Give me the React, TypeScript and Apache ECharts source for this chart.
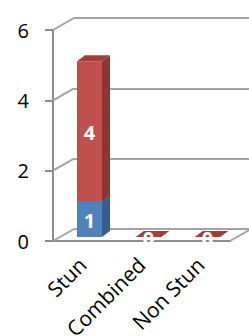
import React, { useEffect, useRef } from "react";
import * as echarts from "echarts";

const categories = ["Stun", "Combined", "Non Stun"];
const blueValues = [1, 0, 0];
const redValues = [4, 0, 0];
const yTicks = [0, 2, 4, 6];

const FONT = "Open Sans";
const BAR_W = 25;
const FRONT_DX = 7;
const FRONT_DY = -4;
const DEPTH_DX = 8;
const DEPTH_DY = -6;
const WALL_DX = 21;
const WALL_DY = -12;

function barRenderer(front: string, side: string, top: string) {
  return (params: any, api: any) => {
    const i = api.value(0);
    const v = api.value(1);
    const base = api.value(2);
    const p0 = api.coord([i, base]);
    const p1 = api.coord([i, base + v]);
    const x0 = p0[0] - BAR_W / 2 + FRONT_DX;
    const x1 = x0 + BAR_W;
    const yb = p0[1] + FRONT_DY;
    const yt = p1[1] + FRONT_DY;
    const children: any[] = [];
    if (v > 0) {
      children.push({
        type: "rect",
        shape: { x: x0, y: yt, width: BAR_W, height: yb - yt },
        style: { fill: front },
      });
      children.push({
        type: "polygon",
        shape: {
          points: [
            [x1, yb],
            [x1 + DEPTH_DX, yb + DEPTH_DY],
            [x1 + DEPTH_DX, yt + DEPTH_DY],
            [x1, yt],
          ],
        },
        style: { fill: side },
      });
    }
    children.push({
      type: "polygon",
      shape: {
        points: [
          [x0, yt],
          [x1, yt],
          [x1 + DEPTH_DX, yt + DEPTH_DY],
          [x0 + DEPTH_DX, yt + DEPTH_DY],
        ],
      },
      style: { fill: top },
    });
    children.push({
      type: "text",
      style: {
        text: String(v),
        x: x0 + BAR_W / 2,
        y: (yt + yb) / 2 + 1,
        align: "center",
        verticalAlign: "middle",
        fill: "#FFFFFF",
        font: `bold 20px "${FONT}"`,
      },
    });
    return { type: "group", children };
  };
}

export default function App() {
  const ref = useRef<HTMLDivElement>(null);
  useEffect(() => {
    if (!ref.current) return;
    const chart = echarts.init(ref.current, null, { renderer: "svg" });
    const axisGray = "#8C8C8C";
    const gridGray = "#A3A3A3";
    chart.setOption({
      animation: false,
      grid: [
        { left: 53, top: 30, width: 177, height: 211, containLabel: false, outerBoundsMode: "none" },
        {
          left: 53 + WALL_DX,
          top: 30 + WALL_DY,
          width: 220,
          height: 211,
          containLabel: false,
          outerBoundsMode: "none",
        },
      ],
      xAxis: [
        {
          type: "category",
          gridIndex: 0,
          data: categories,
          axisLine: { lineStyle: { color: axisGray, width: 2 } },
          axisTick: { length: 7, lineStyle: { color: axisGray, width: 2 } },
          axisLabel: {
            rotate: 45,
            margin: 20,
            color: "#000",
            fontSize: 21,
            fontFamily: FONT,
          },
        },
        {
          type: "category",
          gridIndex: 1,
          data: categories,
          show: false,
        },
      ],
      yAxis: [
        {
          type: "value",
          gridIndex: 0,
          min: 0,
          max: 6,
          interval: 2,
          axisLine: { show: true, lineStyle: { color: axisGray, width: 2 } },
          axisTick: { show: true, length: 8, lineStyle: { color: axisGray, width: 2 } },
          splitLine: { show: false },
          axisLabel: {
            margin: 24,
            color: "#000",
            fontSize: 20,
            fontFamily: FONT,
          },
        },
        {
          type: "value",
          gridIndex: 1,
          min: 0,
          max: 6,
          interval: 2,
          axisLine: { show: false },
          axisTick: { show: false },
          axisLabel: { show: false },
          splitLine: { show: true, lineStyle: { color: gridGray, width: 2 } },
        },
      ],
      series: [
        {
          type: "custom",
          name: "frame",
          xAxisIndex: 0,
          yAxisIndex: 0,
          silent: true,
          data: yTicks.map((t) => [0, t]),
          renderItem: (params: any, api: any) => {
            const cs = params.coordSys;
            const t = api.value(1);
            const y = api.coord([0, t])[1];
            const children: any[] = [
              {
                type: "line",
                shape: { x1: cs.x, y1: y, x2: cs.x + WALL_DX, y2: y + WALL_DY },
                style: { stroke: gridGray, lineWidth: 2 },
              },
            ];
            if (t === 0) {
              children.push({
                type: "line",
                shape: {
                  x1: cs.x + cs.width,
                  y1: y,
                  x2: cs.x + cs.width + WALL_DX,
                  y2: y + WALL_DY,
                },
                style: { stroke: gridGray, lineWidth: 2 },
              });
            }
            return { type: "group", children };
          },
        },
        {
          type: "custom",
          name: "Series 1",
          xAxisIndex: 0,
          yAxisIndex: 0,
          data: blueValues.map((v, i) => [i, v, 0]),
          renderItem: barRenderer("#4F81BD", "#385D8A", "#4472A8"),
        },
        {
          type: "custom",
          name: "Series 2",
          xAxisIndex: 0,
          yAxisIndex: 0,
          data: redValues.map((v, i) => [i, v, blueValues[i]]),
          renderItem: barRenderer("#C0504D", "#8E3533", "#A33E3B"),
        },
      ],
    });
    return () => chart.dispose();
  }, []);
  return (
    <div
      ref={ref}
      style={{ position: "fixed", left: 0, top: 0, width: 249, height: 336, background: "#fff" }}
    />
  );
}
